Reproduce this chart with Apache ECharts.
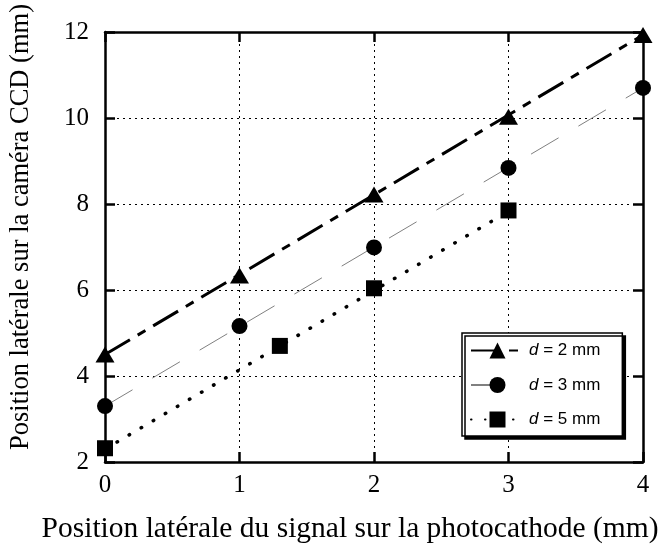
<!DOCTYPE html>
<html>
<head>
<meta charset="utf-8">
<script src="https://cdn.jsdelivr.net/npm/echarts@6/dist/echarts.min.js"></script>
<style>
html,body{margin:0;padding:0;background:#fff;}
#chart{width:664px;height:549px;}
</style>
</head>
<body>
<div id="chart"></div>
<script>
// ---- data ----
const seriesNames = ['d = 2 mm', 'd = 3 mm', 'd = 5 mm'];
const xTicks = [0, 1, 2, 3, 4];
const yTicks = [2, 4, 6, 8, 10, 12];
// measured points [x, y]
const pts2 = [[0, 4.5], [1, 6.34], [2, 8.22], [3, 10.03], [4, 11.93]];
const pts3 = [[0, 3.3], [1, 5.16], [2, 6.99], [3, 8.84], [4, 10.7]];
const pts5 = [[0, 2.32], [1.3, 4.7], [2, 6.04], [3, 7.85]];
// linear fits (end points)
const fit2 = [[0, 4.5], [4, 11.93]];
const fit3 = [[0, 3.3], [4, 10.7]];
const fit5 = [[0, 2.3], [3, 7.83]];
const xTitle = 'Position latérale du signal sur la photocathode (mm)';
const yTitle = 'Position latérale sur la caméra CCD (mm)';

const chart = echarts.init(document.getElementById('chart'), null, {renderer: 'canvas'});
const serif = 'Liberation Serif, Times New Roman, serif';
const sans = 'Liberation Sans, Arial, sans-serif';
const axisCommon = {
  type: 'value',
  axisLine: {show: true, onZero: false, lineStyle: {color: '#000', width: 2.5}},
  axisTick: {show: true, inside: true, length: 10, lineStyle: {color: '#000', width: 2.5}},
};
const option = {
  animation: false,
  backgroundColor: '#fff',
  grid: {left: 105, top: 32, width: 538, height: 431},
  xAxis: [
    Object.assign({}, axisCommon, {
      position: 'bottom', min: xTicks[0], max: xTicks[xTicks.length - 1], interval: 1,
      axisLabel: {color: '#000', fontFamily: serif, fontSize: 25, margin: 11},
      splitLine: {show: true, lineStyle: {color: '#000', width: 1, type: [2, 4]}},
      name: xTitle, nameLocation: 'middle', nameGap: 52,
      nameTextStyle: {color: '#000', fontFamily: serif, fontSize: 29.5, padding: [0, 48, 0, 0]}
    }),
    Object.assign({}, axisCommon, {
      position: 'top', min: xTicks[0], max: xTicks[xTicks.length - 1], interval: 1,
      axisLabel: {show: false}, splitLine: {show: false}
    })
  ],
  yAxis: [
    Object.assign({}, axisCommon, {
      position: 'left', min: yTicks[0], max: yTicks[yTicks.length - 1], interval: 2,
      axisLabel: {color: '#000', fontFamily: serif, fontSize: 25, margin: 16},
      splitLine: {show: true, lineStyle: {color: '#000', width: 1, type: [2, 4]}},
      name: yTitle, nameLocation: 'middle', nameGap: 70,
      nameTextStyle: {color: '#000', fontFamily: serif, fontSize: 26.5, padding: [0, 0, 0, 40]}
    }),
    Object.assign({}, axisCommon, {
      position: 'right', min: yTicks[0], max: yTicks[yTicks.length - 1], interval: 2,
      axisLabel: {show: false}, splitLine: {show: false}
    })
  ],
  legend: {
    orient: 'vertical',
    left: 462, top: 333,
    data: seriesNames,
    itemWidth: 53, itemHeight: 20, itemGap: 17.5,
    padding: [9, 22, 8, 8],
    backgroundColor: '#fff',
    borderColor: '#000', borderWidth: 1.5, borderRadius: 0,
    shadowColor: '#000', shadowBlur: 0, shadowOffsetX: 3, shadowOffsetY: 3,
    formatter: function (name) { return '{i|d}' + name.slice(1); },
    textStyle: {color: '#000', fontFamily: sans, fontSize: 17,
      rich: {i: {fontStyle: 'italic', fontFamily: sans, fontSize: 17, color: '#000'}}},
    selectedMode: false
  },
  series: [
    {name: seriesNames[0], type: 'line', data: fit2, showSymbol: false, symbol: 'triangle',
     itemStyle: {color: '#000'},
     lineStyle: {color: '#000', width: 3, type: [29, 9, 9, 9]}, z: 2},
    {name: seriesNames[1], type: 'line', data: fit3, showSymbol: false, symbol: 'circle',
     itemStyle: {color: '#000'},
     lineStyle: {color: '#808080', width: 1, type: [32, 23]}, z: 2},
    {name: seriesNames[2], type: 'line', data: fit5, showSymbol: false, symbol: 'rect',
     itemStyle: {color: '#000'},
     lineStyle: {color: '#000', width: 3.5, type: [0.5, 13.5], cap: 'round'}, z: 2},
    {name: 'p2', type: 'scatter', data: pts2, symbol: 'triangle', symbolSize: [19, 16],
     itemStyle: {color: '#000', opacity: 1}, z: 5},
    {name: 'p3', type: 'scatter', data: pts3, symbol: 'circle', symbolSize: 16,
     itemStyle: {color: '#000', opacity: 1}, z: 5},
    {name: 'p5', type: 'scatter', data: pts5, symbol: 'rect', symbolSize: 16,
     itemStyle: {color: '#000', opacity: 1}, z: 5}
  ]
};
chart.setOption(option);
</script>
</body>
</html>
